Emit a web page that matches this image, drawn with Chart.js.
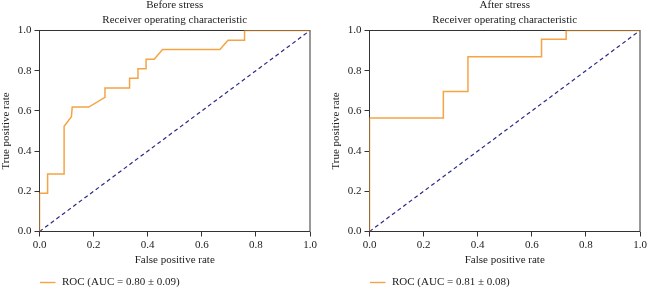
<!DOCTYPE html>
<html>
<head>
<meta charset="utf-8">
<script src="https://cdn.jsdelivr.net/npm/chart.js@4.4.1/dist/chart.umd.min.js"></script>
<style>
  html, body { margin: 0; padding: 0; background: #fff; overflow: hidden; }
  #wrap { position: relative; width: 647px; height: 287px; overflow: hidden; }
  canvas { position: absolute; top: 0; }
  #before { left: 0; }
  #after { left: 330px; }
</style>
</head>
<body>
<div id="wrap">
  <canvas id="before" width="330" height="287"></canvas>
  <canvas id="after" width="330" height="287"></canvas>
</div>
<script>
// ROC points
const beforeFpr = [0, 0, 0.030, 0.030, 0.091, 0.091, 0.118, 0.121, 0.182, 0.242, 0.242, 0.333, 0.333, 0.364, 0.364, 0.394, 0.394, 0.424, 0.455, 0.667, 0.697, 0.758, 0.758, 1.0];
const beforeTpr = [0, 0.190, 0.190, 0.286, 0.286, 0.524, 0.571, 0.619, 0.619, 0.667, 0.714, 0.714, 0.762, 0.762, 0.810, 0.810, 0.857, 0.857, 0.905, 0.905, 0.952, 0.952, 1.0, 1.0];

const afterFpr = [0, 0, 0.273, 0.273, 0.364, 0.364, 0.636, 0.636, 0.727, 0.727, 1.0];
const afterTpr = [0, 0.565, 0.565, 0.696, 0.696, 0.870, 0.870, 0.957, 0.957, 1.0, 1.0];

// chance line
const chanceX = [0, 1];
const chanceY = [0, 1];

const tickValues = [0, 0.2, 0.4, 0.6, 0.8, 1.0];

const ROC_COLOR = '#f5a445';
const CHANCE_COLOR = '#2a2a85';
const TEXT = '#222222';
const FRAME = '#333333';

Chart.defaults.font.family = "'Liberation Serif', 'DejaVu Serif', serif";
Chart.defaults.font.size = 11;
Chart.defaults.color = TEXT;

// box around the plot area (all four sides)
const framePlugin = {
  id: 'frame',
  beforeDatasetsDraw(chart) {
    const { ctx, chartArea: a } = chart;
    ctx.save();
    ctx.strokeStyle = FRAME;
    ctx.lineWidth = 1;
    ctx.strokeRect(a.left, a.top, a.right - a.left, a.bottom - a.top);
    ctx.restore();
  },
};

function rocChart(id, heading, fpr, tpr, legendText) {
  const points = fpr.map((x, i) => ({ x, y: tpr[i] }));
  const chance = chanceX.map((x, i) => ({ x, y: chanceY[i] }));

  // single legend entry under the plot
  const legendLine = {
    id: 'legendLine',
    afterDraw(chart) {
      const { ctx, chartArea } = chart;
      const y = chart.height - 4.5;
      const x = chartArea.left;
      ctx.save();
      ctx.strokeStyle = ROC_COLOR;
      ctx.lineWidth = 1.4;
      ctx.beginPath();
      ctx.moveTo(x + 0.5, y);
      ctx.lineTo(x + 16, y);
      ctx.stroke();
      ctx.fillStyle = TEXT;
      ctx.font = "11px 'Liberation Serif'";
      ctx.textBaseline = 'middle';
      ctx.textAlign = 'left';
      ctx.fillText(legendText, x + 22.5, y);
      ctx.restore();
    },
  };

  return new Chart(document.getElementById(id), {
    type: 'line',
    data: {
      datasets: [
        {
          data: points,
          borderColor: ROC_COLOR,
          borderWidth: 1.5,
          pointRadius: 0,
          tension: 0,
        },
        {
          data: chance,
          borderColor: CHANCE_COLOR,
          borderWidth: 1.2,
          borderDash: [4, 3],
          pointRadius: 0,
        },
      ],
    },
    options: {
      responsive: false,
      animation: false,
      layout: {
        padding: { left: 0, right: 20, top: 0, bottom: 16.5 },
      },
      plugins: {
        legend: { display: false },
        tooltip: { enabled: false },
        title: {
          display: true,
          text: [heading, 'Receiver operating characteristic'],
          fullSize: false,
          color: TEXT,
          font: { size: 11, weight: 'normal', lineHeight: '15px' },
          padding: { top: -2.5, bottom: 3 },
        },
      },
      scales: {
        x: {
          type: 'linear',
          min: 0,
          max: 1,
          afterBuildTicks: (s) => {
            s.ticks = tickValues.map((v) => ({ value: v }));
          },
          afterFit: (s) => {
            s.height = 39;
          },
          ticks: {
            padding: 2,
            maxRotation: 0,
            callback: (v) => v.toFixed(1),
          },
          grid: { drawOnChartArea: false, tickLength: 5, color: FRAME },
          border: { display: false },
          title: {
            display: true,
            text: 'False positive rate',
            padding: { top: 1, bottom: 4 },
          },
        },
        y: {
          type: 'linear',
          min: 0,
          max: 1,
          afterBuildTicks: (s) => {
            s.ticks = tickValues.map((v) => ({ value: v }));
          },
          afterFit: (s) => {
            s.width = 39.5;
          },
          ticks: {
            padding: 3,
            callback: (v) => v.toFixed(1),
          },
          grid: { drawOnChartArea: false, tickLength: 5, color: FRAME },
          border: { display: false },
          title: {
            display: true,
            text: 'True positive rate',
            padding: { top: 0, bottom: 0 },
          },
        },
      },
    },
    plugins: [framePlugin, legendLine],
  });
}

rocChart('before', 'Before stress', beforeFpr, beforeTpr, 'ROC (AUC = 0.80 ± 0.09)');
rocChart('after', 'After stress', afterFpr, afterTpr, 'ROC (AUC = 0.81 ± 0.08)');
</script>
</body>
</html>
